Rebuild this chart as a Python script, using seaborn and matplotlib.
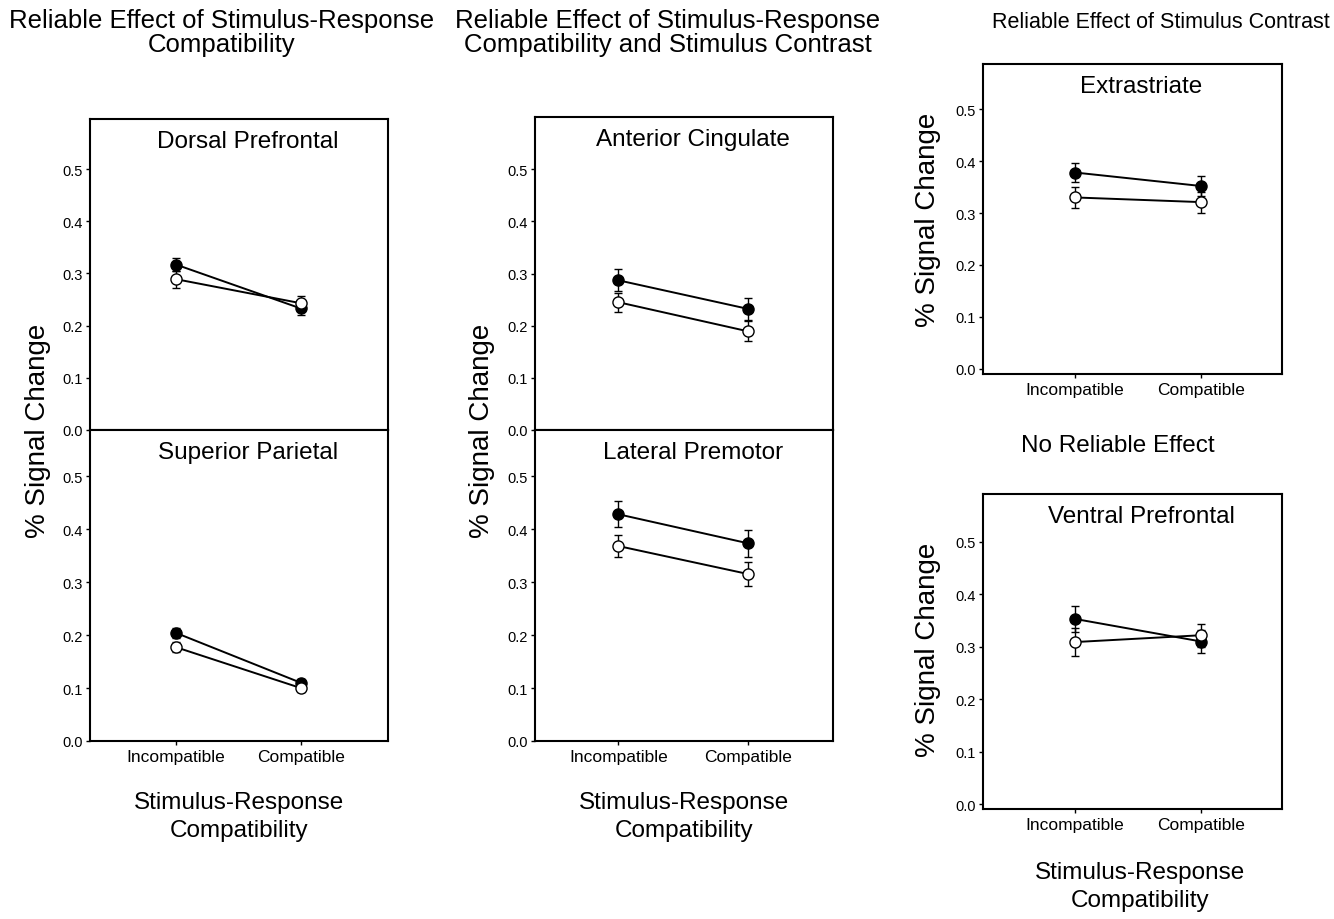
"""
Signal change by stimulus-response compatibility for six regions,
split by stimulus contrast (filled = high, open = low).
"""

import matplotlib

matplotlib.use("Agg")
import matplotlib.pyplot as plt
import pandas as pd
import seaborn as sns
from matplotlib.ticker import FormatStrFormatter

# --- Data ---
CONDITIONS = ["Incompatible", "Compatible"]
CONTRASTS = ["High", "Low"]

REGIONS = [
    "Dorsal Prefrontal",
    "Superior Parietal",
    "Anterior Cingulate",
    "Lateral Premotor",
    "Extrastriate",
    "Ventral Prefrontal",
]

# mean % signal change, [incompatible, compatible]
HIGH_MEAN = {
    "Dorsal Prefrontal": [0.317, 0.233],
    "Superior Parietal": [0.204, 0.110],
    "Anterior Cingulate": [0.287, 0.232],
    "Lateral Premotor": [0.428, 0.373],
    "Extrastriate": [0.378, 0.352],
    "Ventral Prefrontal": [0.353, 0.310],
}
LOW_MEAN = {
    "Dorsal Prefrontal": [0.289, 0.243],
    "Superior Parietal": [0.177, 0.100],
    "Anterior Cingulate": [0.245, 0.189],
    "Lateral Premotor": [0.368, 0.315],
    "Extrastriate": [0.330, 0.321],
    "Ventral Prefrontal": [0.309, 0.322],
}
HIGH_ERR = {
    "Dorsal Prefrontal": [0.013, 0.013],
    "Superior Parietal": [0.009, 0.007],
    "Anterior Cingulate": [0.021, 0.021],
    "Lateral Premotor": [0.025, 0.025],
    "Extrastriate": [0.019, 0.019],
    "Ventral Prefrontal": [0.025, 0.022],
}
LOW_ERR = {
    "Dorsal Prefrontal": [0.016, 0.013],
    "Superior Parietal": [0.009, 0.008],
    "Anterior Cingulate": [0.018, 0.019],
    "Lateral Premotor": [0.021, 0.022],
    "Extrastriate": [0.020, 0.020],
    "Ventral Prefrontal": [0.027, 0.022],
}

Y_TICKS = [0.0, 0.1, 0.2, 0.3, 0.4, 0.5]

W, H = 1334, 920

sns.set_theme(style="white")
plt.rcParams["font.family"] = ["Liberation Sans", "DejaVu Sans"]
plt.rcParams.update(
    {
        "text.color": "black",
        "axes.labelcolor": "black",
        "xtick.color": "black",
        "ytick.color": "black",
    }
)


def build_frame():
    rows = []
    for region in REGIONS:
        for contrast, means, errs in (
            ("High", HIGH_MEAN, HIGH_ERR),
            ("Low", LOW_MEAN, LOW_ERR),
        ):
            for i, cond in enumerate(CONDITIONS):
                rows.append(
                    {
                        "region": region,
                        "contrast": contrast,
                        "condition": cond,
                        "pos": i,
                        "value": means[region][i],
                        "err": errs[region][i],
                    }
                )
    return pd.DataFrame(rows)


def px_axes(fig, x0, y0, x1, y1):
    """Add axes from a pixel box (top-left origin)."""
    return fig.add_axes([x0 / W, 1 - y1 / H, (x1 - x0) / W, (y1 - y0) / H])


def draw_panel(ax, df, region, ylim, xlim, show_xticks=True):
    sub = df[df["region"] == region]
    for contrast in CONTRASTS:
        s = sub[sub["contrast"] == contrast]
        ax.errorbar(
            s["pos"], s["value"], yerr=s["err"], fmt="none",
            ecolor="black", elinewidth=1.0, capsize=3, capthick=1.0, zorder=2,
        )
        sns.lineplot(
            data=s, x="pos", y="value", ax=ax, color="black", lw=1.4,
            marker="o", markersize=8,
            markerfacecolor="black" if contrast == "High" else "white",
            markeredgecolor="black", markeredgewidth=1.0, zorder=3,
            errorbar=None, legend=False,
        )
    ax.set_xticks(range(len(CONDITIONS)))
    ax.set_yticks(Y_TICKS)
    ax.set_xlim(*xlim)
    ax.set_ylim(*ylim)
    ax.yaxis.set_major_formatter(FormatStrFormatter("%.1f"))
    if show_xticks:
        ax.set_xticklabels(CONDITIONS, fontsize=12.5)
    else:
        ax.set_xticklabels([])
    ax.tick_params(axis="y", labelsize=10.5, length=3, width=1, pad=2, left=True)
    ax.tick_params(axis="x", length=3 if show_xticks else 0, width=1, pad=3,
                   bottom=show_xticks)
    ax.set_xlabel("")
    ax.set_ylabel("")
    for sp in ax.spines.values():
        sp.set_color("black")
        sp.set_linewidth(1.5)
    ax.text(0.53, 0.93, region, transform=ax.transAxes, ha="center",
            va="center", fontsize=17.5)


def main():
    df = build_frame()
    fig = plt.figure(figsize=(W / 100, H / 100), dpi=100)

    # left column
    ax = px_axes(fig, 90, 120, 388, 431)
    draw_panel(ax, df, "Dorsal Prefrontal", (0, 0.596), (-0.69, 1.70), False)
    ax = px_axes(fig, 90, 431, 388, 742)
    draw_panel(ax, df, "Superior Parietal", (0, 0.587), (-0.69, 1.70))

    # middle column
    ax = px_axes(fig, 535, 118, 833, 431)
    draw_panel(ax, df, "Anterior Cingulate", (0, 0.60), (-0.64, 1.65), False)
    ax = px_axes(fig, 535, 431, 833, 742)
    draw_panel(ax, df, "Lateral Premotor", (0, 0.587), (-0.64, 1.65))

    # right column
    ax = px_axes(fig, 983, 65, 1282, 375)
    draw_panel(ax, df, "Extrastriate", (-0.01, 0.587), (-0.73, 1.64))
    ax = px_axes(fig, 983, 495, 1282, 810)
    draw_panel(ax, df, "Ventral Prefrontal", (-0.009, 0.591), (-0.73, 1.64))

    # y labels
    for x, y in ((38, 431), (482, 431), (928, 220), (928, 650)):
        fig.text(x / W, 1 - y / H, "% Signal Change", rotation=90,
                 ha="center", va="center", fontsize=20)

    # x labels
    for x, y in ((239, 817), (684, 817), (1140, 887)):
        fig.text(x / W, 1 - y / H, "Stimulus-Response\nCompatibility",
                 ha="center", va="center", fontsize=17.5, linespacing=1.4)

    # section headings
    fig.text(222 / W, 1 - 33 / H,
             "Reliable Effect of Stimulus-Response\nCompatibility",
             ha="center", va="center", fontsize=18.5, linespacing=1.05)
    fig.text(668 / W, 1 - 33 / H,
             "Reliable Effect of Stimulus-Response\nCompatibility and Stimulus Contrast",
             ha="center", va="center", fontsize=18.5, linespacing=1.05)
    fig.text(1330 / W, 1 - 22 / H, "Reliable Effect of Stimulus Contrast",
             ha="right", va="center", fontsize=15.5)
    fig.text(1118 / W, 1 - 446 / H, "No Reliable Effect",
             ha="center", va="center", fontsize=17.5)

    fig.savefig("out.png", dpi=100, facecolor="white")
    plt.close(fig)


if __name__ == "__main__":
    main()
